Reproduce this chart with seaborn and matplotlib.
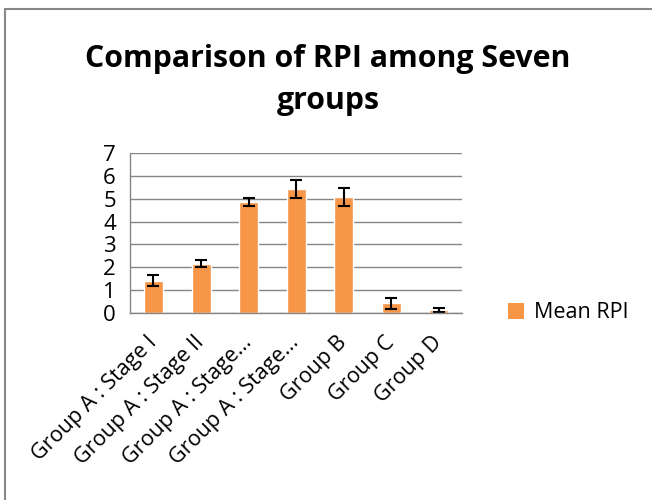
import seaborn as sns
import pandas as pd
import numpy as np
import matplotlib.pyplot as plt
from matplotlib.patches import Patch
from matplotlib.lines import Line2D

# Data
groups = ["Group A : Stage I", "Group A : Stage II", "Group A : Stage...",
          "Group A : Stage...", "Group B", "Group C", "Group D"]
mean_rpi = [1.42, 2.15, 4.85, 5.42, 5.07, 0.42, 0.13]
err_rpi = [0.25, 0.15, 0.17, 0.41, 0.39, 0.24, 0.08]

df = pd.DataFrame({"group": range(len(groups)), "mean": mean_rpi, "err": err_rpi})

sns.set_style("white", {"text.color": "black", "xtick.color": "black",
                        "ytick.color": "black"})
plt.rcParams['font.family'] = ['Open Sans', 'DejaVu Sans']

fig = plt.figure(figsize=(6.52, 5.0), dpi=100)
ax = fig.add_axes([0.199, 0.374, 0.510, 0.320])

bar_color = "#F79646"
sns.barplot(data=df, x="group", y="mean", color=bar_color, width=0.4,
            errorbar=None, ax=ax, saturation=1, native_scale=False)
ax.errorbar(np.arange(len(groups)), df["mean"], yerr=df["err"], fmt="none",
            ecolor="black", elinewidth=1.5, capsize=4, capthick=1.5)

ax.set_xlim(-0.5, len(groups) - 0.5)
ax.set_ylim(0, 7)
ax.set_yticks(range(0, 8))
ax.yaxis.grid(True, color="#868686", linewidth=1)
ax.set_axisbelow(True)
ax.set_xlabel("")
ax.set_ylabel("")

# category labels centred, tick marks between categories
ax.set_xticks(np.arange(len(groups)))
ax.set_xticklabels(groups, rotation=45, ha="right", va="center",
                   rotation_mode="anchor", fontsize=15.5, color="black")
ax.set_xticks(np.arange(len(groups) + 1) - 0.5, minor=True)
ax.tick_params(axis="x", which="major", length=0, pad=19)
ax.tick_params(axis="x", which="minor", length=8, color="#868686", width=1, direction="out")
ax.tick_params(axis="y", length=8, color="#868686", width=1, labelsize=16, pad=2,
               labelcolor="black")

for s in ["top", "right"]:
    ax.spines[s].set_visible(False)
for s in ["left", "bottom"]:
    ax.spines[s].set_color("#868686")
    ax.spines[s].set_linewidth(1)

ax.legend(handles=[Patch(facecolor=bar_color, edgecolor="none", label="Mean RPI")],
          loc="center left", bbox_to_anchor=(1.08, 0.0), frameon=False,
          fontsize=15.5, handlelength=0.75, handleheight=0.75, handletextpad=0.45,
          labelcolor="black")

fig.text(0.503, 0.84, "Comparison of RPI among Seven\ngroups", ha="center", va="center",
         fontsize=21.8, fontweight="bold", linespacing=1.5, color="black")

# chart border (left and top edges)
fig.add_artist(Line2D([0.008, 0.008], [0, 0.982], color="#888888", linewidth=1.5, transform=fig.transFigure))
fig.add_artist(Line2D([0.008, 1.0], [0.982, 0.982], color="#888888", linewidth=1.5, transform=fig.transFigure))

fig.savefig("out.png", dpi=100)
